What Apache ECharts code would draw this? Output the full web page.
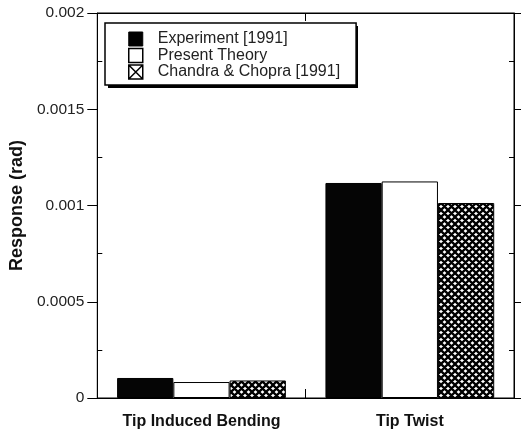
<!DOCTYPE html>
<html>
<head>
<meta charset="utf-8">
<script src="https://cdn.jsdelivr.net/npm/echarts@6/dist/echarts.min.js"></script>
<style>
  html, body { margin: 0; padding: 0; background: #fff; }
  #chart { width: 521px; height: 434px; }
</style>
</head>
<body>
<div id="chart"></div>
<script>
// Categories and measured responses (rad)
const categories = ['Tip Induced Bending', 'Tip Twist'];
const seriesNames = ['Experiment [1991]', 'Present Theory', 'Chandra & Chopra [1991]'];
const experiment = [0.000104, 0.001117];
const presentTheory = [0.000083, 0.001125];
const chandraChopra = [0.000091, 0.001013];
const yTicks = [0, 0.0005, 0.001, 0.0015, 0.002];

// Cross-hatch fill tile
function makeHatch(size, lw) {
  const c = document.createElement('canvas');
  c.width = size; c.height = size;
  const ctx = c.getContext('2d');
  ctx.fillStyle = '#fff';
  ctx.fillRect(0, 0, size, size);
  ctx.strokeStyle = '#000';
  ctx.lineWidth = lw;
  ctx.beginPath();
  for (let k = -1; k <= 1; k++) {
    const o = k * size;
    ctx.moveTo(o - 1, -1); ctx.lineTo(o + size + 1, size + 1);
    ctx.moveTo(o + size + 1, -1); ctx.lineTo(o - 1, size + 1);
  }
  ctx.stroke();
  return c;
}
const hatch = makeHatch(7, 2.3);

const chart = echarts.init(document.getElementById('chart'), null, { renderer: 'canvas' });

const axisBlack = { show: true, onZero: false, lineStyle: { color: '#000', width: 1 } };
const yMin = yTicks[0], yMax = yTicks[yTicks.length - 1], yStep = yTicks[1] - yTicks[0];

const baseY = {
  type: 'value', min: yMin, max: yMax, interval: yStep,
  splitLine: { show: false }, axisLabel: { show: false }
};

// legend frame placement
const legendBox = { left: 105, top: 23, width: 250, height: 62 };

const option = {
  animation: false,
  backgroundColor: '#fff',
  textStyle: { fontFamily: 'Liberation Sans, Arial, sans-serif' },
  grid: {
    left: 96, right: 7, top: 13, bottom: 36, containLabel: false,
    show: true, borderColor: '#000', borderWidth: 1, backgroundColor: 'transparent'
  },
  graphic: [
    {
      // drop shadow behind the legend frame
      type: 'rect', z: 3, silent: true,
      shape: { x: legendBox.left + 3, y: legendBox.top + 3, width: legendBox.width, height: legendBox.height },
      style: { fill: '#000' }
    }
  ],
  legend: {
    orient: 'vertical',
    left: legendBox.left, top: legendBox.top,
    width: legendBox.width,
    padding: [8, 16, 5, 23],
    itemGap: 0.5,
    itemWidth: 14, itemHeight: 14,
    backgroundColor: '#fff',
    borderColor: '#000', borderWidth: 1.5,
    z: 4,
    selectedMode: false,
    textStyle: { fontSize: 16, color: '#222', padding: [0, 0, 0, 10], lineHeight: 16 },
    data: [
      { name: seriesNames[0], icon: 'rect', itemStyle: { color: '#000', borderColor: '#000', borderWidth: 1 } },
      { name: seriesNames[1], icon: 'rect', itemStyle: { color: '#fff', borderColor: '#000', borderWidth: 1.5 } },
      { name: seriesNames[2], icon: 'path://M0,0H10V10H0Z M0,0L10,10 M10,0L0,10',
        itemStyle: { color: '#fff', borderColor: '#000', borderWidth: 1.5 } }
    ]
  },
  xAxis: [
    {
      type: 'category', data: categories, position: 'bottom',
      axisLine: axisBlack,
      axisTick: { show: true, inside: true, length: 9, lineStyle: { color: '#000' } },
      axisLabel: { fontSize: 16, fontWeight: 'bold', color: '#111', margin: 16 }
    },
    {
      type: 'category', data: categories, position: 'top',
      axisLine: { show: true, onZero: false, lineStyle: { color: '#000', width: 1 } },
      axisTick: { show: true, inside: true, length: 8, lineStyle: { color: '#000' } },
      axisLabel: { show: false }
    }
  ],
  yAxis: [
    Object.assign({}, baseY, {
      position: 'left',
      name: 'Response (rad)', nameLocation: 'middle', nameGap: 59,
      nameTextStyle: { fontSize: 18, fontWeight: 'bold', color: '#111' },
      axisLine: axisBlack,
      axisTick: { show: true, inside: false, length: 10, lineStyle: { color: '#000' } },
      axisLabel: { show: true, fontSize: 15.5, color: '#222', margin: 13 }
    }),
    Object.assign({}, baseY, {
      position: 'left',
      axisLine: { show: false },
      axisTick: { show: false, inside: true },
      minorTick: { show: true, splitNumber: 2, length: 5, lineStyle: { color: '#000', width: 1 } }
    }),
    Object.assign({}, baseY, {
      position: 'right',
      axisLine: axisBlack,
      axisTick: { show: true, inside: false, length: 7, lineStyle: { color: '#000' } }
    }),
    Object.assign({}, baseY, {
      position: 'right',
      axisLine: { show: false },
      axisTick: { show: false, inside: true },
      minorTick: { show: true, splitNumber: 2, length: 5, lineStyle: { color: '#000', width: 1 } }
    })
  ],
  series: [
    {
      name: seriesNames[0], type: 'bar', data: experiment,
      xAxisIndex: 0, yAxisIndex: 0,
      barGap: '0%', barCategoryGap: '19%',
      itemStyle: { color: '#050505', borderColor: '#000', borderWidth: 1 }
    },
    {
      name: seriesNames[1], type: 'bar', data: presentTheory,
      xAxisIndex: 0, yAxisIndex: 0,
      barGap: '0%', barCategoryGap: '19%',
      itemStyle: { color: '#fff', borderColor: '#000', borderWidth: 1 }
    },
    {
      name: seriesNames[2], type: 'bar', data: chandraChopra,
      xAxisIndex: 0, yAxisIndex: 0,
      barGap: '0%', barCategoryGap: '19%',
      itemStyle: { color: { image: hatch, repeat: 'repeat' }, borderColor: '#000', borderWidth: 1 }
    }
  ]
};

chart.setOption(option);
</script>
</body>
</html>
